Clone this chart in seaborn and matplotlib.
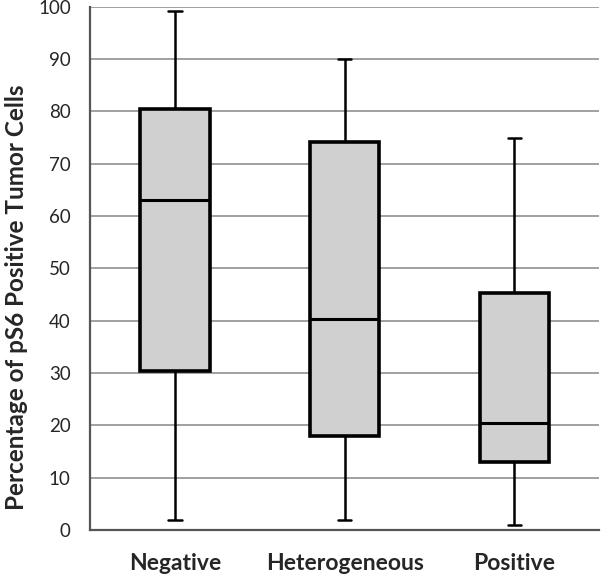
import numpy as np
import pandas as pd
import matplotlib
matplotlib.use("Agg")
import matplotlib.pyplot as plt
import seaborn as sns

# Five-number summaries: min, Q1, median, Q3, max
categories = ["Negative", "Heterogeneous", "Positive"]
negative = [1.9, 30.3, 63.0, 80.4, 99.2]
heterogeneous = [1.9, 17.9, 40.4, 74.1, 90.1]
positive = [1.0, 13.0, 20.4, 45.3, 75.0]
y_ticks = list(range(0, 101, 10))

df = pd.DataFrame({
    "group": np.repeat(categories, 5),
    "value": negative + heterogeneous + positive,
})

sns.set_style("white")
plt.rcParams["font.family"] = ["Lato", "DejaVu Sans"]

fig = plt.figure(figsize=(6.01, 5.74), dpi=100)
ax = fig.add_axes([0.150, 0.077, 0.847, 0.911])

# Five points per group: Q1/median/Q3 land on the read values, whiskers span min..max
sns.boxplot(data=df, x="group", y="value", order=categories, ax=ax,
            whis=(0, 100), width=0.41, color="#d0d0d0", linecolor="black",
            showfliers=False,
            boxprops=dict(linewidth=2.6, edgecolor="black", facecolor="#d0d0d0"),
            medianprops=dict(linewidth=2.2, color="black"),
            whiskerprops=dict(linewidth=1.8, color="black"),
            capprops=dict(linewidth=1.8, color="black"),
            capwidths=0.08, zorder=3)

ax.set_ylim(0, 100)
ax.set_xlim(-0.5, 2.5)
ax.set_yticks(y_ticks)
ax.yaxis.grid(True, color="#999999", linewidth=1.3, zorder=0)
ax.set_axisbelow(True)

for side in ["top", "right"]:
    ax.spines[side].set_visible(False)
for side in ["left", "bottom"]:
    ax.spines[side].set_color("#555555")
    ax.spines[side].set_linewidth(1.6)

# category labels without marks, tick marks at the boundaries between groups
ax.set_xticks(range(len(categories)))
ax.set_xticklabels(categories, fontsize=16.5, fontweight="bold")
ax.tick_params(axis="x", which="major", length=0, pad=17)
ax.set_xticks([-0.5, 0.5, 1.5, 2.5], minor=True)
ax.tick_params(axis="x", which="minor", length=6, width=1.6, color="#555555", direction="out")
ax.tick_params(axis="y", length=7, width=1.6, color="#555555", labelsize=13.5, pad=7)

ax.set_xlabel("")
ax.set_ylabel("Percentage of pS6 Positive Tumor Cells", fontsize=17.5, fontweight="bold")
ax.yaxis.set_label_coords(-0.122, 0.445)

fig.savefig("out.png", dpi=100)
